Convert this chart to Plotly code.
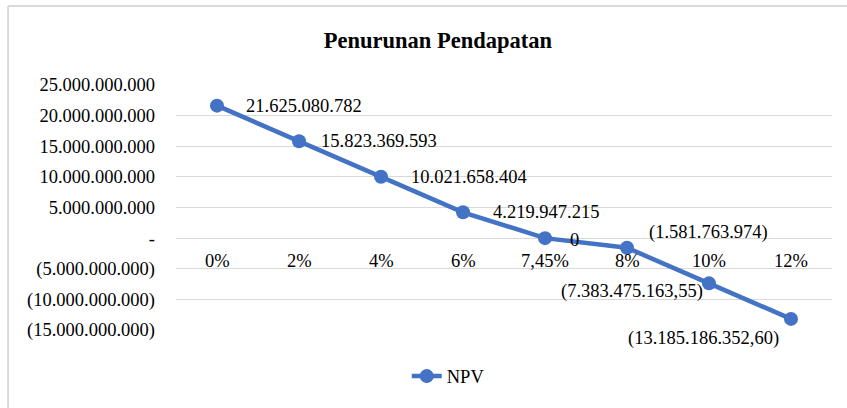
import plotly.graph_objects as go

categories = ["0%", "2%", "4%", "6%", "7,45%", "8%", "10%", "12%"]
npv = [21625080782, 15823369593, 10021658404, 4219947215, 0,
       -1581763974, -7383475163.55, -13185186352.60]
value_labels = ["21.625.080.782", "15.823.369.593", "10.021.658.404", "4.219.947.215", "0",
                "(1.581.763.974)", "(7.383.475.163,55)", "(13.185.186.352,60)"]
y_tick_vals = [25e9, 20e9, 15e9, 10e9, 5e9, 0, -5e9, -10e9, -15e9]
y_tick_text = ["25.000.000.000", "20.000.000.000", "15.000.000.000", "10.000.000.000",
               "5.000.000.000", "-", "(5.000.000.000)", "(10.000.000.000)", "(15.000.000.000)"]

# label placement (style): (xanchor, xshift, yshift)
label_pos = [("left", 27, 0), ("left", 20, 0), ("left", 28, 0), ("left", 28, 0),
             ("left", 23, -2), ("left", 20, 15), ("right", -4, -8), ("right", -10, -20)]

FONT = "Liberation Serif, Times New Roman, serif"
BLUE = "#4472C4"
GRID = "#d9d9d9"
FS = 18.5

fig = go.Figure()
fig.add_trace(go.Scatter(
    x=categories, y=npv, mode="lines+markers", name="NPV",
    line=dict(color=BLUE, width=4.5),
    marker=dict(color=BLUE, size=14),
))

annotations = []
for c, v, t, (xa, xs, ys) in zip(categories, npv, value_labels, label_pos):
    annotations.append(dict(x=c, y=v, text=t, showarrow=False, xanchor=xa, yanchor="middle",
                            xshift=xs, yshift=ys, font=dict(family=FONT, size=FS, color="#000")))
for c in categories:
    annotations.append(dict(x=c, y=0, text=c, showarrow=False, xanchor="center", yanchor="middle",
                            yshift=-23, font=dict(family=FONT, size=FS, color="#000")))

fig.update_layout(
    width=847, height=408,
    margin=dict(l=176, r=15, t=85, b=78),
    paper_bgcolor="white", plot_bgcolor="white",
    title=dict(text="<b>Penurunan Pendapatan</b>", x=0.517, xanchor="center", y=0.902, yanchor="middle",
               font=dict(family=FONT, size=22.5, color="#000")),
    xaxis=dict(type="category", range=[-0.5, 7.5], showticklabels=False, showgrid=False,
               zeroline=False, showline=False, ticks=""),
    yaxis=dict(range=[-15e9, 25e9], tickvals=y_tick_vals, ticktext=y_tick_text,
               showgrid=True, gridcolor=GRID, gridwidth=1, zeroline=True, zerolinecolor=GRID,
               zerolinewidth=1, showline=False, ticks="", ticklabelstandoff=20,
               tickfont=dict(family=FONT, size=FS, color="#000")),
    showlegend=True,
    legend=dict(orientation="h", x=0.415, xanchor="center", y=-0.19, yanchor="middle",
                font=dict(family=FONT, size=FS, color="#000"), bgcolor="rgba(0,0,0,0)"),
    annotations=annotations,
    shapes=[
        dict(type="line", xref="paper", yref="paper", x0=-0.256, x1=-0.256, y0=-0.4, y1=1.3224,
             line=dict(color=GRID, width=2)),
        dict(type="line", xref="paper", yref="paper", x0=-0.256, x1=1.1, y0=1.3224, y1=1.3224,
             line=dict(color=GRID, width=2)),
    ],
)

fig.write_html("out.html", config={"displayModeBar": False},
               post_script="document.body.style.margin='0';document.body.style.overflow='hidden';")
